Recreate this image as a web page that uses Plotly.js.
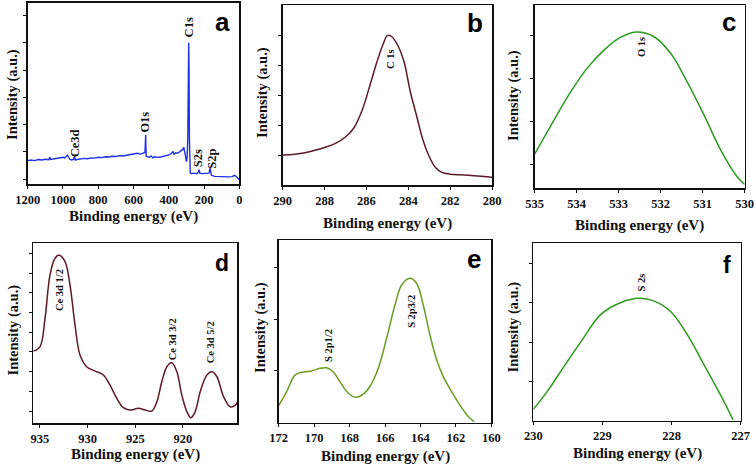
<!DOCTYPE html>
<html>
<head>
<meta charset="utf-8">
<script src="https://cdn.plot.ly/plotly-3.0.1.min.js"></script>
<style>html,body{margin:0;padding:0;background:#fff;}#chart{width:756px;height:469px;}</style>
</head>
<body>
<div id="chart"></div>
<script>
// ---------- data ----------
// (a) survey spectrum
const xA = [1200,1180,1160,1140,1120,1100,1080,1075,1070,1050,1030,1010,1000,990,980,975,970,960,950,940,935,930,920,900,880,860,840,820,800,780,760,740,720,700,680,660,640,620,600,580,560,545,535,531,528,520,510,500,490,480,460,440,420,400,385,375,370,360,350,340,330,320,315,310,305,300,296,292,289,287,285,283,281,278,270,260,240,232,228,224,210,190,172,166,163,158,140,120,100,80,60,40,28,22,12,5,0];
const yA = [0.68,0.70,0.68,0.72,0.70,0.73,0.71,0.80,0.72,0.74,0.76,0.77,0.80,0.78,0.85,0.88,0.83,0.72,0.70,0.73,0.82,0.70,0.72,0.74,0.76,0.75,0.78,0.77,0.80,0.79,0.82,0.81,0.84,0.83,0.86,0.85,0.88,0.90,0.93,0.95,0.92,0.94,0.98,1.62,0.84,0.82,0.80,0.85,0.78,0.82,0.80,0.82,0.85,0.89,0.94,1.02,0.91,0.97,0.95,0.99,1.04,1.09,1.17,1.04,0.84,0.64,0.80,1.50,3.50,5.01,4.00,1.50,0.40,0.22,0.20,0.22,0.20,0.26,0.35,0.22,0.20,0.20,0.22,0.40,0.25,0.14,0.10,0.09,0.08,0.08,0.08,0.09,0.14,0.12,0.05,0.02,-0.02];
// (b) C 1s
const xB = [290,289.5,289,288.5,288,287.5,287,286.6,286.2,285.8,285.5,285.2,285.0,284.8,284.5,284.2,283.9,283.6,283.3,283.0,282.7,282.4,282.0,281.5,281,280.5,280];
const yB = [1.00,1.02,1.07,1.15,1.25,1.38,1.60,1.90,2.50,3.40,4.10,4.70,4.98,4.95,4.65,4.10,3.10,2.30,1.50,0.95,0.58,0.42,0.36,0.34,0.32,0.29,0.26];
// (c) O 1s
const xC = [535,534.54,534.14,533.75,533.35,532.95,532.56,532.16,531.76,531.37,530.97,530.57,530.18,530];
const yC = [1.25,2.04,2.70,3.25,3.67,3.97,4.09,3.98,3.59,2.93,2.16,1.34,0.72,0.54];
// (d) Ce 3d
const xD = [935.7,935,934.47,933.95,933.42,932.97,932.37,931.85,931.32,930.8,930.1,929.2,928.35,927.65,926.94,926.25,925.55,924.67,923.97,923.27,922.74,922.22,921.69,921.17,920.64,920.12,919.59,919.17,918.72,918.19,917.49,916.96,916.44,915.74,915.04,914.5,914.3];
const yD = [3.04,3.26,4.70,6.90,7.75,7.91,7.58,6.39,4.36,2.84,2.25,2.03,1.83,1.32,0.64,0.17,0.05,0.14,0.05,0.00,0.47,1.49,2.25,2.45,1.99,0.81,-0.03,-0.34,-0.03,0.98,1.83,1.99,1.74,0.73,0.22,0.30,0.45];
// (e) S 2p
const xE = [172,171.55,171.08,170.61,170.14,169.67,169.29,168.92,168.54,168.07,167.64,167.23,166.85,166.38,165.91,165.44,165.06,164.59,164.21,163.84,163.46,163.08,162.71,162.24,161.77,161.3,160.98];
const yE = [0.33,0.60,0.92,0.98,1.00,1.05,1.06,0.98,0.79,0.57,0.49,0.55,0.70,1.05,1.63,2.27,2.66,2.79,2.69,2.27,1.69,1.21,0.89,0.60,0.34,0.12,0.02];
// (f) S 2s
const xF = [230,229.8,229.56,229.31,229.03,228.74,228.47,228.25,228.01,227.77,227.53,227.29,227.11];
const yF = [0.29,0.74,1.37,2.01,2.69,3.00,3.11,3.04,2.77,2.18,1.42,0.65,0.02];

// x tick labels per panel
const xTickA = [1200,1000,800,600,400,200,0];
const xTickB = [290,288,286,284,282,280];
const xTickC = [535,534,533,532,531,530];
const xTickD = [935,930,925,920];
const xTickE = [172,170,168,166,164,162,160];
const xTickF = [230,229,228,227];

// peak labels
const peakA = [["C1s",280,5.57],["O1s",535,2.11],["Ce3d",927,1.31],["S2s",234,0.77],["S2p",155,0.75]];
const peakB = [["C 1s",284.87,4.2]];
const peakC = [["O 1s",532.47,3.74]];
const peakD = [["Ce 3d 1/2",933.0,6.14],["Ce 3d 3/2",921.13,3.65],["Ce 3d 5/2",917.14,3.5]];
const peakE = [["S 2p1/2",169.22,1.5],["S 2p3/2",164.48,2.16]];
const peakF = [["S 2s",228.44,3.52]];
const panelLetters = ["a","b","c","d","e","f"];
const xTitle = "Binding energy (eV)";
const yTitle = "Intensity (a.u.)";

// ---------- layout helpers ----------
const W = 756, H = 469;
const px = (l, r) => [l / W, r / W];
const py = (t, b) => [1 - b / H, 1 - t / H];
const serif = '"Liberation Serif", "Times New Roman", Times, "DejaVu Serif", serif';
const sans = '"Liberation Sans", Arial, "DejaVu Sans", sans-serif';

// [left,right,top,bottom] plot boxes in px
const boxes = [
  [27.7, 239.3, 2.7, 184],
  [282.7, 492, 5, 185],
  [534.7, 744.7, 5, 188.3],
  [33.3, 237.3, 243.3, 423.3],
  [278.7, 491.3, 240, 422.7],
  [533.3, 740.7, 243.3, 420.7]
];
const xRanges = [[1200, 0], [290, 280], [535, 530], [935.7, 914.3], [172, 160], [230, 227]];
const xTicks = [xTickA, xTickB, xTickC, xTickD, xTickE, xTickF];
const yRanges = [[-0.18, 6.48], [0, 6], [0.45, 4.72], [-0.62, 8.51], [0, 3.53], [0, 4.51]];
const yTicks = [[0,1,2,3,4,5,6],[1,2,3,4,5],[1,2,3,4],[0,1,2,3,4,5,6,7,8],[1,2,3],[1,2,3,4]];
const colors = ['#1f30e6', '#5c1a26', '#2c9a22', '#5c1a26', '#6c9a24', '#2c9a1c'];
const xs = [xA, xB, xC, xD, xE, xF];
const ys = [yA, yB, yC, yD, yE, yF];
const peaks = [peakA, peakB, peakC, peakD, peakE, peakF];
// axis-title centres (px)
const xTitleY = [216, 223, 226, 454, 456.5, 453];
const yTitleX = [12, 262, 513, 12.5, 260, 513];
const yTitleY = [95, 93, 96, 330, 328, 327.5];

const data = [];
const layout = {
  width: W, height: H,
  margin: {l: 0, r: 0, t: 0, b: 0},
  paper_bgcolor: '#fff', plot_bgcolor: '#fff',
  showlegend: false,
  font: {family: serif},
  annotations: []
};

for (let i = 0; i < 6; i++) {
  const sfx = i === 0 ? '' : String(i + 1);
  const [l, r, t, b] = boxes[i];
  data.push({
    type: 'scatter', mode: 'lines',
    x: xs[i], y: ys[i],
    xaxis: 'x' + sfx, yaxis: 'y' + sfx,
    line: {color: colors[i], width: i === 0 ? 1.4 : 1.5, shape: i === 0 ? 'linear' : 'spline', smoothing: 1},
    hoverinfo: 'skip'
  });
  const common = {
    showline: true, mirror: true, linecolor: '#111', linewidth: 1.5,
    ticks: 'outside', ticklen: 3, tickcolor: '#111', tickwidth: 1,
    showgrid: false, zeroline: false
  };
  layout['xaxis' + sfx] = Object.assign({}, common, {
    domain: px(l, r), anchor: 'y' + sfx, range: xRanges[i],
    tickmode: 'array', tickvals: xTicks[i],
    tickfont: {family: serif, size: 12.5, color: '#111', weight: 'bold'}
  });
  layout['yaxis' + sfx] = Object.assign({}, common, {
    domain: py(t, b), anchor: 'x' + sfx, range: yRanges[i],
    tickmode: 'array', tickvals: yTicks[i], showticklabels: false
  });
  // axis titles
  layout.annotations.push({
    xref: 'paper', yref: 'paper', x: (l + r) / 2 / W, y: 1 - xTitleY[i] / H,
    text: xTitle, showarrow: false, xanchor: 'center', yanchor: 'middle',
    font: {family: serif, size: 15, color: '#111', weight: 'bold'}
  });
  layout.annotations.push({
    xref: 'paper', yref: 'paper', x: yTitleX[i] / W, y: 1 - yTitleY[i] / H,
    text: yTitle, showarrow: false, textangle: -90, xanchor: 'center', yanchor: 'middle',
    font: {family: serif, size: 14.5, color: '#111', weight: 'bold'}
  });
  peaks[i].forEach(p => {
    layout.annotations.push({
      xref: 'x' + sfx, yref: 'y' + sfx, x: p[1], y: p[2],
      text: p[0], showarrow: false, textangle: -90,
      font: {family: serif, size: i === 0 ? 12.5 : 10.5, color: '#111', weight: 'bold'},
      xanchor: 'center', yanchor: 'middle'
    });
  });
}

const letterPos = [[222.5, 22], [475, 23], [728.5, 22], [221.7, 263], [473.7, 259], [727, 265]];
const letterSize = [26, 26, 26, 23, 26, 23];
panelLetters.forEach((s, i) => {
  layout.annotations.push({
    xref: 'paper', yref: 'paper', x: letterPos[i][0] / W, y: 1 - letterPos[i][1] / H,
    text: s, showarrow: false, xanchor: 'center', yanchor: 'middle',
    font: {family: sans, size: letterSize[i], color: '#000', weight: 'bold'}
  });
});

Plotly.newPlot('chart', data, layout, {staticPlot: true, displayModeBar: false});
</script>
</body>
</html>
